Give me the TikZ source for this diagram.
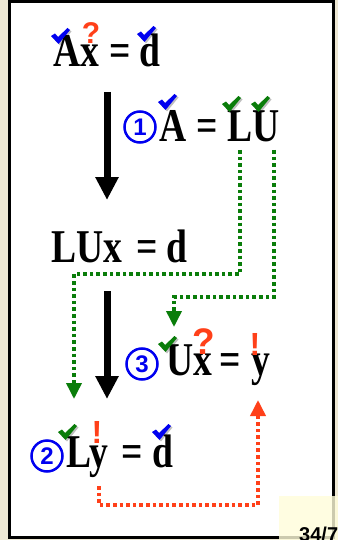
\documentclass[tikz,border=0pt]{standalone}
\usepackage{fontspec}
\usetikzlibrary{arrows.meta}
\newfontfamily\eqf[FakeStretch=0.8]{Liberation Serif}
\newfontfamily\sansb{Liberation Sans}
\definecolor{bg}{RGB}{238,232,212}
\definecolor{gr}{RGB}{10,125,10}
\definecolor{orng}{RGB}{255,64,25}
\definecolor{bl}{RGB}{0,0,240}
\definecolor{yel}{RGB}{255,253,218}
\begin{document}
\begin{tikzpicture}[x=1pt,y=-1pt,
  eqtxt/.style={anchor=base west, inner sep=0pt, font=\eqf\bfseries\fontsize{47}{50}\selectfont},
  bigarrow/.style={line width=7pt, -{Triangle[length=23pt,width=22pt]}},
  gdot/.style={draw=gr, line width=3.6pt, dash pattern=on 3.6pt off 3pt, -{Triangle[length=16pt,width=15pt]}},
  odot/.style={draw=orng, line width=3.6pt, dash pattern=on 3.6pt off 3pt, -{Triangle[length=16pt,width=15pt]}},
  cnum/.style={circle, draw=bl, line width=2.5pt, minimum size=31pt, inner sep=0pt, text=bl, font=\sansb\bfseries\fontsize{24}{26}\selectfont},
  qmark/.style={inner sep=0pt, text=orng, font=\sansb\bfseries\fontsize{#1}{#1}\selectfont},
  chk/.pic={\fill[black, opacity=0.25] (1.5,9.5) -- (5.5,7) -- (8.5,10.5) -- (18,1.5) -- (20.5,3.5) -- (9,17.5) -- cycle;
            \fill[#1] (0,8) -- (4,5.5) -- (7,9) -- (16.5,0) -- (19,2) -- (7.5,16) -- cycle;}
]
\clip (0,0) rectangle (338,540);
\fill[bg] (0,0) rectangle (338,540);
\filldraw[fill=white, draw=black, line width=3pt] (9.5,1.5) rectangle (333.5,537.5);

% equations
\node[eqtxt] (ax1) at (53,67) {Ax};
\node[eqtxt] (eq1) at (109,67) {=};
\node[eqtxt] (d1) at (139,67) {d};

\node[eqtxt] (a2) at (159,142) {A};
\node[eqtxt] (eq2) at (196,142) {=};
\node[eqtxt] (lu2) at (227,142) {LU};

\node[eqtxt] (lux3) at (51,262) {LUx};
\node[eqtxt] (eq3) at (136,262) {=};
\node[eqtxt] (d3) at (166,262) {d};

\node[eqtxt] (ux4) at (166,375) {Ux};
\node[eqtxt] (eq4) at (219,375) {=};
\node[eqtxt] (y4) at (251,375) {y};

\node[eqtxt] (ly5) at (66,467) {Ly};
\node[eqtxt] (eq5) at (121,467) {=};
\node[eqtxt] (d5) at (152,467) {d};

% circled numbers
\node[cnum] (c1) at (140,127) {1};
\node[cnum] (c3) at (142,364) {3};
\node[cnum] (c2) at (47,456) {2};

% checks
\pic at (51,28) {chk=bl};
\pic at (137,26) {chk=bl};
\pic at (158,94) {chk=bl};
\pic at (222,96) {chk=gr};
\pic at (251,96) {chk=gr};
\pic at (158,336) {chk=gr};
\pic at (58,424) {chk=gr};
\pic at (152,424) {chk=bl};

% question / exclamation marks
\node[qmark=30] (q1) at (91,33) {?};
\node[qmark=37] (q2) at (204,342) {?};
\node[qmark=32] (e1) at (255,344) {!};
\node[qmark=32] (e2) at (97,432) {!};

% big arrows
\coordinate (a1s) at (107,92);
\coordinate (a1e) at (107,200);
\coordinate (a2s) at (107,291);
\coordinate (a2e) at (107,399);
\draw[bigarrow] (a1s) -- (a1e);
\draw[bigarrow] (a2s) -- (a2e);

% dotted connectors
\coordinate (gLs) at (240,150);
\coordinate (gLe) at (74,399);
\coordinate (gUs) at (274,150);
\coordinate (gUe) at (174,327);
\coordinate (oYs) at (99,486);
\coordinate (oYe) at (258,400);
\draw[gdot] (gLs) -- ++(0,124) -| (gLe);
\draw[gdot] (gUs) -- ++(0,147) -| (gUe);
\draw[odot] (oYs) -- ++(0,19) -| (oYe);

% page number box
\fill[yel, opacity=0.8] (279,496) rectangle (338,540);
\node[anchor=base west, inner sep=0pt, font=\sansb\bfseries\fontsize{20}{22}\selectfont] (pg) at (299,541) {34/7};
\end{tikzpicture}
\end{document}
